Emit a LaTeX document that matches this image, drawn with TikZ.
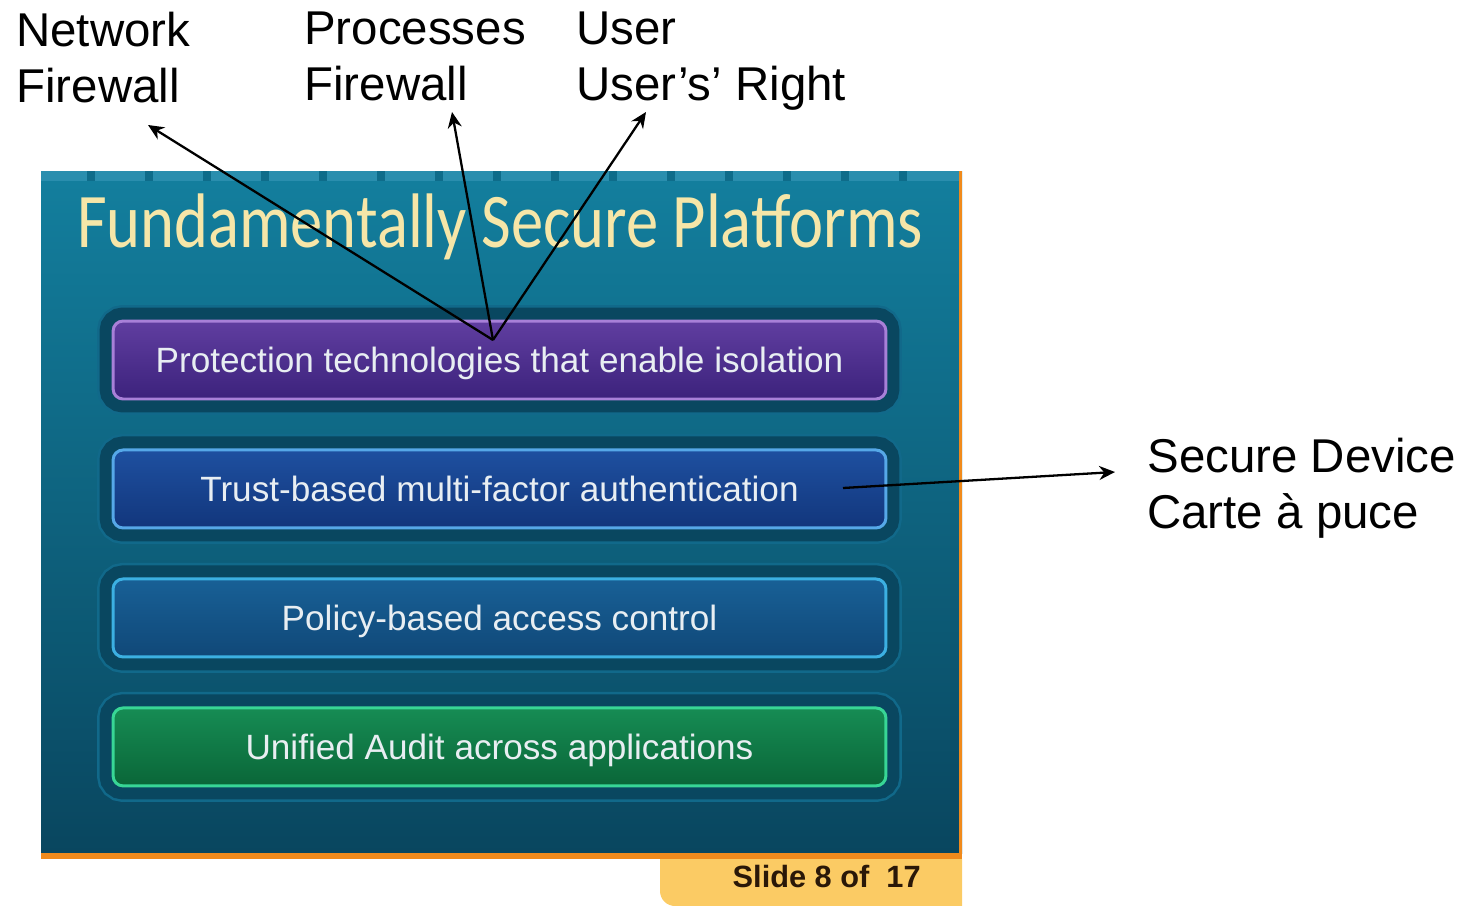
\documentclass[tikz,border=0pt]{standalone}
\usepackage{fontspec}
\setmainfont{Liberation Sans}
\newfontfamily\titlefont{Carlito}
\usepackage{graphicx}
\usepackage{xcolor}
\usepackage{tikz}
\usetikzlibrary{arrows.meta,shapes,positioning,calc}

\definecolor{slidetop}{HTML}{137F9E}
\definecolor{slidebot}{HTML}{09465F}
\definecolor{slidestrip}{HTML}{2A8EAE}
\definecolor{slidetick}{HTML}{0E6C8A}
\definecolor{slideedge}{HTML}{F08A1C}
\definecolor{tabcol}{HTML}{FBCB64}
\definecolor{slidenum}{HTML}{2A1808}
\definecolor{titlecol}{HTML}{F6E6A8}
\definecolor{frame}{HTML}{094760}
\definecolor{framerim}{HTML}{11698A}
\definecolor{btntext}{HTML}{E8EEF2}

\begin{document}
\begin{tikzpicture}[
    x=0.02cm, y=-0.02cm,
    node distance=2.58cm,
    callout/.style={anchor=north west, inner sep=0pt, align=left, font=\fontsize{27}{31.8}\selectfont},
    btn/.style={rectangle, rounded corners=0.2cm, minimum width=15.46cm, minimum height=1.56cm,
        line width=1.7pt, text=btntext, font=\fontsize{20}{24}\selectfont, text height=14.3pt, text depth=0pt,
        preaction={draw=framerim, line width=0.64cm}, preaction={draw=frame, line width=0.54cm}},
    purplebtn/.style={draw={rgb,255:red,168;green,128;blue,216}, top color={rgb,255:red,96;green,62;blue,160}, bottom color={rgb,255:red,60;green,34;blue,124}},
    trustbtn/.style={draw={rgb,255:red,86;green,168;blue,232}, top color={rgb,255:red,30;green,80;blue,160}, bottom color={rgb,255:red,18;green,54;blue,124}},
    policybtn/.style={draw={rgb,255:red,60;green,176;blue,226}, top color={rgb,255:red,24;green,96;blue,150}, bottom color={rgb,255:red,16;green,72;blue,120}},
    auditbtn/.style={draw={rgb,255:red,56;green,214;blue,150}, top color={rgb,255:red,22;green,140;blue,84}, bottom color={rgb,255:red,10;green,102;blue,56}},
    arrow/.style={-{Stealth[length=9pt,width=8pt]}, line width=1.3pt}
]
    \useasboundingbox (0,0) rectangle (1464,906);

    % slide
    \fill[top color=slidetop, bottom color=slidebot] (41,171) rectangle (962,853);
    \fill[slidestrip] (41,171) rectangle (962,181);
    \foreach \i in {0,...,14}
        \fill[slidetick] ({87+58*\i},171) rectangle ({95+58*\i},181);
    \fill[slideedge] (41,853) rectangle (962,859);
    \fill[slideedge] (959,171) rectangle (962,859);
    \fill[tabcol] (660,859) [rounded corners=0.3cm] -- (660,906) [sharp corners] -- (962,906) -- (962,859) -- cycle;
    \node[anchor=base east, inner sep=0pt, text=slidenum, font=\bfseries\fontsize{17.5}{20}\selectfont] (slideno) at (921,887) {Slide 8 of~ 17};

    \node[anchor=base, inner sep=0pt, text=titlecol, font=\titlefont\fontsize{44}{50}\selectfont] (title) at (500,247)
        {\scalebox{0.835}[1]{Fundamentally Secure Platforms}};

    \node[btn, purplebtn] (prot) at (499.5,360) {Protection technologies that enable isolation};
    \node[btn, trustbtn, below of=prot] (trust) {Trust-based multi-factor authentication};
    \node[btn, policybtn, below of=trust] (policy) {Policy-based access control};
    \node[btn, auditbtn, below of=policy] (audit) {Unified Audit across applications};

    % callouts
    \node[callout] (netfw) at (16,12) {Network\\Firewall};
    \node[callout] (procfw) at (304,12) {Processes\\Firewall};
    \node[callout] (userright) at (576,12) {User\\User’s’ Right};
    \node[callout] (securedev) at (1147,438) {Secure Device\\Carte à puce};

    \coordinate (hub) at (493,340);
    \coordinate (netTip) at (148,125);
    \coordinate (procTip) at (452,112);
    \coordinate (userTip) at (646,112);
    \coordinate (authPt) at (843,488);
    \coordinate (secTip) at (1115,472);

    \draw[arrow] (hub) -- (netTip);
    \draw[arrow] (hub) -- (procTip);
    \draw[arrow] (hub) -- (userTip);
    \draw[arrow] (authPt) -- (secTip);
\end{tikzpicture}
\end{document}
